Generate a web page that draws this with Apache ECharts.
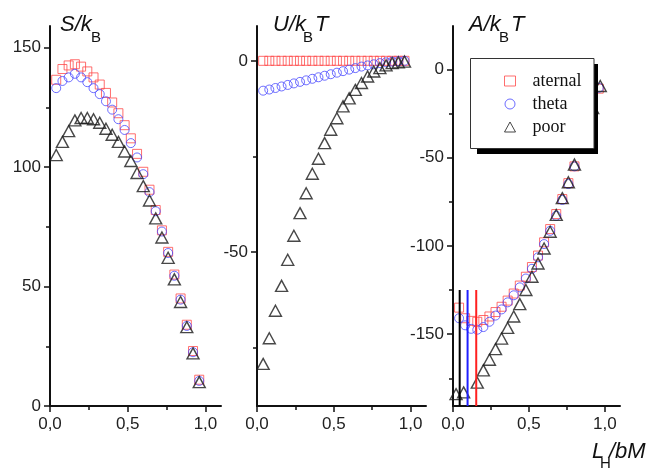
<!DOCTYPE html>
<html>
<head>
<meta charset="utf-8">
<script src="https://cdn.jsdelivr.net/npm/echarts@6/dist/echarts.min.js"></script>
<style>
  html, body { margin: 0; padding: 0; background: #fff; }
  #chart { width: 650px; height: 469px; }
</style>
</head>
<body>
<div id="chart"></div>
<script>
// L_H/bM values shared by most series
const X = [0.04, 0.08, 0.12, 0.16, 0.20, 0.24, 0.28, 0.32, 0.36, 0.40, 0.44, 0.48,
  0.52, 0.56, 0.60, 0.64, 0.68, 0.72, 0.76, 0.80, 0.84, 0.88, 0.92, 0.96]

// S/kB
const S_aternal = [136.5, 141, 142.5, 143, 142, 140, 137.5, 134.5, 131, 127, 122.5, 117.5,
  112, 105.5, 98, 90.5, 82, 73.5, 64.5, 55, 45, 34, 23, 11]
const S_theta = [133, 136, 137.5, 139, 137.5, 135.5, 133, 130.5, 127.5, 124, 120, 115.5,
  110, 104, 97, 89.5, 81.5, 73, 64, 54.5, 44.5, 33.5, 22.5, 10.5]
const S_poor = [105, 110.5, 115, 119.5, 120.5, 120.5, 120, 118.5, 116, 113.5, 110.5, 106.5,
  102.5, 97.5, 92, 86, 78.5, 70.5, 62, 53, 43.5, 33, 22, 10]

// U/kBT
const U_aternal = [0, 0, 0, 0, 0, 0, 0, 0, 0, 0, 0, 0, 0, 0, 0, 0, 0, 0, 0, 0, 0, 0, 0, 0]
const U_theta = [-7.8, -7.5, -7.1, -6.7, -6.3, -5.9, -5.5, -5.1, -4.7, -4.3, -3.9, -3.5,
  -3.1, -2.7, -2.3, -1.9, -1.5, -1.2, -0.9, -0.6, -0.4, -0.2, -0.1, 0]
const U_poor = [-79.2, -72.5, -65.3, -58.8, -52, -45.7, -39.8, -34.6, -29.5, -25.6, -21.5, -18,
  -15, -11.9, -9.8, -7.6, -5.8, -4.1, -2.8, -1.9, -1.2, -0.6, -0.4, -0.2]

// A/kBT
const A_aternal = [-135, -141, -142.5, -143, -142, -140, -137.5, -134.5, -131, -127, -122.5, -117.5,
  -112, -105.5, -98, -90.5, -82, -73.5, -64.5, -55, -45, -34, -23, -11]
const A_theta = [-141, -145, -147, -147.5, -146, -143, -139.5, -136, -132, -128, -123.5, -118.5,
  -113, -106.5, -99, -91.5, -83, -74, -65, -55, -45, -34, -22.5, -10.5]
const A_poorX = [0.02, 0.07, 0.16, 0.20, 0.24, 0.28, 0.32, 0.36, 0.40, 0.44, 0.48, 0.52,
  0.56, 0.60, 0.64, 0.68, 0.72, 0.76, 0.80, 0.84, 0.88, 0.92, 0.97]
const A_poor = [-184, -183, -177.5, -170.5, -164.5, -158.5, -152.5, -146.5, -140, -133, -125, -117.5,
  -110, -101.5, -92, -82.5, -73, -64, -54, -44.5, -33.5, -22, -9.5]

// vertical markers in the A panel (poor, theta, aternal)
const markX = [0.044, 0.096, 0.153]
const markTop = -125

// ticks
const xMajor = [0, 0.5, 1.0]
const xMinor = [0.25, 0.75]
const yMajor = [[0, 50, 100, 150], [0, -50], [0, -50, -100, -150]]
const yMinor = [[25, 75, 125], [-25, -75], [-25, -75, -125, -175]]
const yRange = [[0, 159], [-90.2, 9.1], [-190.7, 24.5]]

const names = ['aternal', 'theta', 'poor']
const colors = ['#ff4a4a', '#4848ff', '#1a1a1a']
const symbols = ['rect', 'circle', 'triangle']
const sizes = [9, 9, [12, 11]]
const widths = [1, 1, 1.4]

const axisColor = '#111'
const labelFont = { fontSize: 17, color: '#222', fontFamily: 'Liberation Sans' }

function pairs (xs, ys) {
  return xs.map((x, i) => [x, ys[i]])
}

let chart = echarts.init(document.getElementById('chart'), null, { renderer: 'canvas' })

let grids = [
  { left: 50, top: 26, width: 171, height: 380 },
  { left: 257, top: 26, width: 169, height: 380 },
  { left: 453, top: 26, width: 167, height: 380 }
]

let xAxis = []
let yAxis = []
grids.forEach((g, gi) => {
  xAxis.push({
    type: 'value', gridIndex: gi, min: 0, max: 1.1, position: 'bottom',
    axisLine: { onZero: false, lineStyle: { color: axisColor, width: 2 } },
    splitLine: { show: false },
    axisTick: { customValues: xMajor, length: 6, lineStyle: { color: axisColor, width: 1.5 } },
    axisLabel: Object.assign({
      customValues: xMajor, margin: 10,
      formatter: v => v.toFixed(1).replace('.', ',')
    }, labelFont)
  })
  // minor ticks only
  xAxis.push({
    type: 'value', gridIndex: gi, min: 0, max: 1.1, position: 'bottom',
    axisLine: { show: false, onZero: false },
    splitLine: { show: false },
    axisTick: { customValues: xMinor, length: 4, lineStyle: { color: axisColor, width: 1.5 } },
    axisLabel: { show: false }
  })
  yAxis.push({
    type: 'value', gridIndex: gi, min: yRange[gi][0], max: yRange[gi][1], position: 'left',
    axisLine: { onZero: false, lineStyle: { color: axisColor, width: 2 } },
    splitLine: { show: false },
    axisTick: { customValues: yMajor[gi], length: 6, lineStyle: { color: axisColor, width: 1.5 } },
    axisLabel: Object.assign({ customValues: yMajor[gi], margin: 9 }, labelFont)
  })
  yAxis.push({
    type: 'value', gridIndex: gi, min: yRange[gi][0], max: yRange[gi][1], position: 'left',
    axisLine: { show: false, onZero: false },
    splitLine: { show: false },
    axisTick: { customValues: yMinor[gi], length: 4, lineStyle: { color: axisColor, width: 1.5 } },
    axisLabel: { show: false }
  })
})

function scatter (gi, k, data) {
  return {
    name: names[k],
    type: 'scatter',
    xAxisIndex: gi * 2,
    yAxisIndex: gi * 2,
    symbol: symbols[k],
    symbolSize: sizes[k],
    itemStyle: { color: 'rgba(0,0,0,0)', borderColor: colors[k], borderWidth: widths[k] },
    emphasis: { disabled: true },
    data: data
  }
}

let series = [
  scatter(0, 0, pairs(X, S_aternal)),
  scatter(0, 1, pairs(X, S_theta)),
  scatter(0, 2, pairs(X, S_poor)),
  scatter(1, 0, pairs(X, U_aternal)),
  scatter(1, 1, pairs(X, U_theta)),
  scatter(1, 2, pairs(X, U_poor)),
  scatter(2, 0, pairs(X, A_aternal)),
  scatter(2, 1, pairs(X, A_theta)),
  scatter(2, 2, pairs(A_poorX, A_poor))
]

// vertical lines in A panel
const markColors = ['#000', '#2020ff', '#ff2020']
markX.forEach((mx, i) => {
  series.push({
    name: 'mark' + i,
    type: 'line',
    xAxisIndex: 4,
    yAxisIndex: 4,
    symbol: 'none',
    lineStyle: { color: markColors[i], width: 2 },
    emphasis: { disabled: true },
    data: [[mx, yRange[2][0]], [mx, markTop]]
  })
})

const titleFont = 'italic 22px "Liberation Sans", Arial, sans-serif'
const subFont = '15px "Liberation Sans", Arial, sans-serif'
function txt (x, y, s, font) {
  return { type: 'text', x: x, y: y, style: { text: s, font: font, fill: '#111', verticalAlign: 'middle' } }
}

chart.setOption({
  animation: false,
  backgroundColor: '#fff',
  grid: grids,
  xAxis: xAxis,
  yAxis: yAxis,
  legend: {
    data: names.map((n, k) => ({
      name: n,
      icon: symbols[k],
      itemStyle: { color: 'rgba(0,0,0,0)', borderColor: colors[k], borderWidth: 1 }
    })),
    orient: 'vertical',
    left: 504,
    top: 72,
    padding: 0,
    itemWidth: 11,
    itemHeight: 10,
    itemGap: 5,
    selectedMode: false,
    textStyle: { fontFamily: 'Liberation Serif', fontSize: 18, color: '#111', padding: [0, 0, 0, 12] }
  },
  graphic: [
    // legend frame with its hard black shadow
    { type: 'rect', z: 3, shape: { x: 477, y: 64, width: 121, height: 90 }, style: { fill: '#000' } },
    { type: 'rect', z: 3, shape: { x: 470.5, y: 58.5, width: 123.5, height: 90 }, style: { fill: '#fff', stroke: '#333', lineWidth: 1 } },
    txt(60, 25, 'S/k', titleFont), txt(91, 38, 'B', subFont),
    txt(273, 25, 'U/k', titleFont), txt(303, 38, 'B', subFont), txt(315, 25, 'T', titleFont),
    txt(469, 25, 'A/k', titleFont), txt(499, 38, 'B', subFont), txt(511, 25, 'T', titleFont),
    txt(592, 452, 'L', titleFont), txt(600, 464, 'H', subFont), txt(609, 452, '/bM', titleFont)
  ],
  series: series
})
</script>
</body>
</html>
